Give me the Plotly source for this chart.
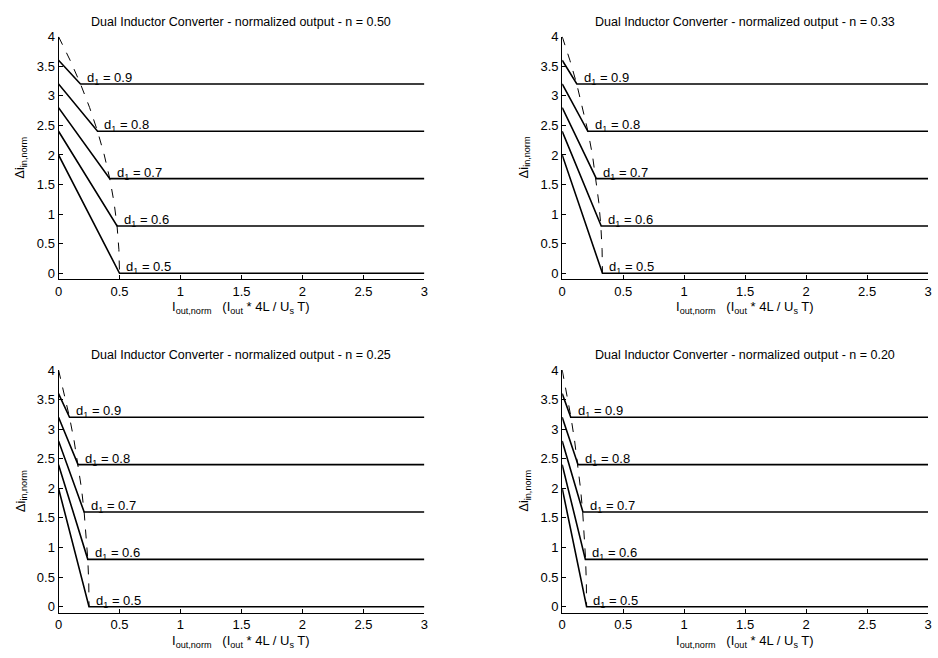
import plotly.graph_objects as go

# ---- data ----
n_values = [0.50, 0.33, 0.25, 0.20]
n_labels = ["0.50", "0.33", "0.25", "0.20"]
d1_values = [0.5, 0.6, 0.7, 0.8, 0.9]
d1_labels = ["0.5", "0.6", "0.7", "0.8", "0.9"]
start_levels = [2.0, 2.4, 2.8, 3.2, 3.6]      # value at I_out,norm = 0
flat_levels = [0.0, 0.8, 1.6, 2.4, 3.2]       # value in continuous mode
x_end = 3.0

# corner (break) points for each panel, per d1
break_x = [
    [0.50, 0.48, 0.42, 0.32, 0.18],
    [0.33, 0.32, 0.28, 0.21, 0.12],
    [0.25, 0.24, 0.21, 0.16, 0.09],
    [0.20, 0.19, 0.17, 0.13, 0.07],
]

# dashed boundary curve per panel
boundary_y = [4.0, 3.6, 3.2, 2.8, 2.4, 2.0, 1.6, 1.2, 0.8, 0.4, 0.0]
boundary_x = [
    [0.0, 0.095, 0.18, 0.255, 0.32, 0.375, 0.42, 0.455, 0.48, 0.495, 0.50],
    [0.0, 0.063, 0.119, 0.168, 0.211, 0.248, 0.277, 0.300, 0.317, 0.327, 0.33],
    [0.0, 0.048, 0.09, 0.128, 0.16, 0.188, 0.21, 0.228, 0.24, 0.248, 0.25],
    [0.0, 0.038, 0.072, 0.102, 0.128, 0.15, 0.168, 0.182, 0.192, 0.198, 0.20],
]

x_ticks = [0, 0.5, 1, 1.5, 2, 2.5, 3]
x_ticktext = ["0", "0.5", "1", "1.5", "2", "2.5", "3"]
y_ticks = [0, 0.5, 1, 1.5, 2, 2.5, 3, 3.5, 4]
y_ticktext = ["0", "0.5", "1", "1.5", "2", "2.5", "3", "3.5", "4"]

W, H = 938, 658
FONT = "Liberation Sans, Arial, sans-serif"

# pixel layout of the four axes (left, right, top, bottom)
panels_px = [
    (55, 424, 30, 276),
    (563, 932, 30, 276),
    (55, 424, 368, 614),
    (563, 932, 368, 614),
]

fig = go.Figure()
annotations = []

for i, (l, r, t, b) in enumerate(panels_px):
    xa = "x" if i == 0 else f"x{i+1}"
    ya = "y" if i == 0 else f"y{i+1}"
    xkey = "xaxis" if i == 0 else f"xaxis{i+1}"
    ykey = "yaxis" if i == 0 else f"yaxis{i+1}"
    xdom = [l / W, r / W]
    ydom = [1 - b / H, 1 - t / H]

    for j, d in enumerate(d1_values):
        fig.add_trace(go.Scatter(
            x=[0, break_x[i][j], x_end],
            y=[start_levels[j], flat_levels[j], flat_levels[j]],
            mode="lines", line=dict(color="black", width=1.6),
            xaxis=xa, yaxis=ya, showlegend=False, hoverinfo="skip"))
        annotations.append(dict(
            x=break_x[i][j] + 0.04, y=flat_levels[j], xref=xa, yref=ya,
            text=f"d<sub>1</sub> = {d1_labels[j]}", showarrow=False,
            xanchor="left", yanchor="bottom", yshift=-5,
            font=dict(family=FONT, size=13, color="black")))

    fig.add_trace(go.Scatter(
        x=boundary_x[i], y=boundary_y, mode="lines",
        line=dict(color="black", width=1, dash="dash"),
        xaxis=xa, yaxis=ya, showlegend=False, hoverinfo="skip"))

    fig.layout[xkey] = dict(
        domain=xdom, range=[0, 3], anchor=ya,
        tickvals=x_ticks, ticktext=x_ticktext, ticks="inside", ticklen=4,
        tickcolor="black", showline=True, linecolor="black", linewidth=1,
        showgrid=False, zeroline=False,
        tickfont=dict(family=FONT, size=13, color="black"))
    fig.layout[ykey] = dict(
        domain=ydom, range=[-0.1, 4], anchor=xa,
        tickvals=y_ticks, ticktext=y_ticktext, ticks="inside", ticklen=4,
        tickcolor="black", showline=True, linecolor="black", linewidth=1,
        showgrid=False, zeroline=False,
        tickfont=dict(family=FONT, size=13, color="black"))

    cx = (l + r) / 2 / W
    annotations.append(dict(
        x=cx, y=1 - (t - 15) / H, xref="paper", yref="paper",
        text=f"Dual Inductor Converter - normalized output - n = {n_labels[i]}",
        showarrow=False, xanchor="center", yanchor="middle",
        font=dict(family=FONT, size=12.5, color="black")))
    annotations.append(dict(
        x=cx, y=1 - (b + 29) / H, xref="paper", yref="paper",
        text="I<sub>out,norm</sub>   (I<sub>out</sub> * 4L / U<sub>s</sub> T)",
        showarrow=False, xanchor="center", yanchor="middle",
        font=dict(family=FONT, size=13, color="black")))
    annotations.append(dict(
        x=(l - 38) / W, y=1 - (t + b) / 2 / H, xref="paper", yref="paper",
        text="Δi<sub>in,norm</sub>", textangle=-90,
        showarrow=False, xanchor="center", yanchor="middle",
        font=dict(family=FONT, size=13, color="black")))

fig.update_layout(
    width=W, height=H, margin=dict(l=0, r=0, t=0, b=0),
    paper_bgcolor="white", plot_bgcolor="white",
    annotations=annotations, showlegend=False)

fig.write_html("out.html")
